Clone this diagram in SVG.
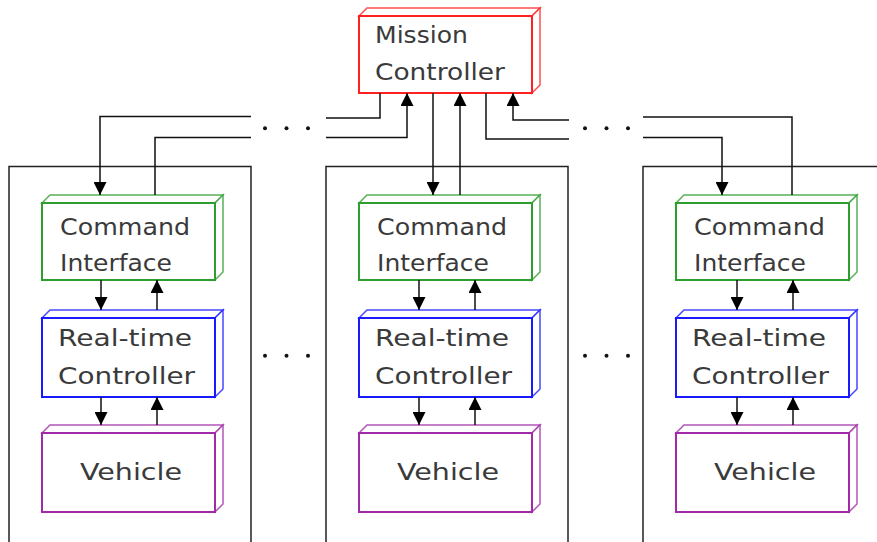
<svg xmlns="http://www.w3.org/2000/svg" width="877" height="542" viewBox="0 0 877 542">
<defs>
<marker id="ah" markerUnits="userSpaceOnUse" markerWidth="13" markerHeight="13" refX="13" refY="6.5" orient="auto">
<path d="M0,0 L13,6.5 L0,13 z" fill="#000"/>
</marker>
<style>
.frame{fill:none;stroke:#222;stroke-width:1.5}
.ln{fill:none;stroke:#111;stroke-width:1.5}
.arr{fill:none;stroke:#111;stroke-width:1.5;marker-end:url(#ah)}
.front{fill:#fff;stroke-width:2}
.face{fill:#fff;stroke-width:1.5;stroke-opacity:0.8}
.t{font-family:"DejaVu Sans",Verdana,sans-serif;font-size:23.5px;fill:#3a3a3a}
.red{stroke:#ff2020}
.green{stroke:#2e9e2e}
.blue{stroke:#1a1aff}
.purple{stroke:#a02aa8}
.dot{fill:#111}
</style>
</defs>
<rect width="877" height="542" fill="#fff"/>

<g id="containers">
<path class="frame" d="M9,545 V166.5 H251 V545"/>
<path class="frame" d="M326,545 V166.5 H568 V545"/>
<path class="frame" d="M643,545 V166.5 H880"/>
</g>

<g id="mission-controller">
<path class="face red" d="M359,16 L367,8 L540,8 L532,16 z"/>
<path class="face red" d="M532,16 L540,8 L540,85 L532,93 z"/>
<rect class="front red" x="359" y="16" width="173" height="77"/>
<text class="t" x="375" y="43" textLength="93" lengthAdjust="spacingAndGlyphs">Mission</text>
<text class="t" x="375" y="80" textLength="130" lengthAdjust="spacingAndGlyphs">Controller</text>
</g>

<g id="ci-1">
<path class="face green" d="M42,203 L50,195 L223,195 L215,203 z"/>
<path class="face green" d="M215,203 L223,195 L223,272 L215,280 z"/>
<rect class="front green" x="42" y="203" width="173" height="77"/>
<text class="t" x="60" y="235" textLength="130" lengthAdjust="spacingAndGlyphs">Command</text>
<text class="t" x="60" y="271" textLength="112" lengthAdjust="spacingAndGlyphs">Interface</text>
</g>
<g id="rtc-1">
<path class="face blue" d="M42,318 L50,310 L223,310 L215,318 z"/>
<path class="face blue" d="M215,318 L223,310 L223,389 L215,397 z"/>
<rect class="front blue" x="42" y="318" width="173" height="79"/>
<text class="t" x="58" y="346" textLength="134" lengthAdjust="spacingAndGlyphs">Real-time</text>
<text class="t" x="58" y="384" textLength="137" lengthAdjust="spacingAndGlyphs">Controller</text>
</g>
<g id="veh-1">
<path class="face purple" d="M42,433 L50,425 L223,425 L215,433 z"/>
<path class="face purple" d="M215,433 L223,425 L223,504 L215,512 z"/>
<rect class="front purple" x="42" y="433" width="173" height="79"/>
<text class="t" x="80" y="480" textLength="102" lengthAdjust="spacingAndGlyphs">Vehicle</text>
</g>

<g id="ci-2">
<path class="face green" d="M359,203 L367,195 L540,195 L532,203 z"/>
<path class="face green" d="M532,203 L540,195 L540,272 L532,280 z"/>
<rect class="front green" x="359" y="203" width="173" height="77"/>
<text class="t" x="377" y="235" textLength="130" lengthAdjust="spacingAndGlyphs">Command</text>
<text class="t" x="377" y="271" textLength="112" lengthAdjust="spacingAndGlyphs">Interface</text>
</g>
<g id="rtc-2">
<path class="face blue" d="M359,318 L367,310 L540,310 L532,318 z"/>
<path class="face blue" d="M532,318 L540,310 L540,389 L532,397 z"/>
<rect class="front blue" x="359" y="318" width="173" height="79"/>
<text class="t" x="375" y="346" textLength="134" lengthAdjust="spacingAndGlyphs">Real-time</text>
<text class="t" x="375" y="384" textLength="137" lengthAdjust="spacingAndGlyphs">Controller</text>
</g>
<g id="veh-2">
<path class="face purple" d="M359,433 L367,425 L540,425 L532,433 z"/>
<path class="face purple" d="M532,433 L540,425 L540,504 L532,512 z"/>
<rect class="front purple" x="359" y="433" width="173" height="79"/>
<text class="t" x="397" y="480" textLength="102" lengthAdjust="spacingAndGlyphs">Vehicle</text>
</g>

<g id="ci-3">
<path class="face green" d="M676,203 L684,195 L857,195 L849,203 z"/>
<path class="face green" d="M849,203 L857,195 L857,272 L849,280 z"/>
<rect class="front green" x="676" y="203" width="173" height="77"/>
<text class="t" x="694" y="235" textLength="131" lengthAdjust="spacingAndGlyphs">Command</text>
<text class="t" x="694" y="271" textLength="112" lengthAdjust="spacingAndGlyphs">Interface</text>
</g>
<g id="rtc-3">
<path class="face blue" d="M676,318 L684,310 L857,310 L849,318 z"/>
<path class="face blue" d="M849,318 L857,310 L857,389 L849,397 z"/>
<rect class="front blue" x="676" y="318" width="173" height="79"/>
<text class="t" x="692" y="346" textLength="134" lengthAdjust="spacingAndGlyphs">Real-time</text>
<text class="t" x="692" y="384" textLength="137" lengthAdjust="spacingAndGlyphs">Controller</text>
</g>
<g id="veh-3">
<path class="face purple" d="M676,433 L684,425 L857,425 L849,433 z"/>
<path class="face purple" d="M849,433 L857,425 L857,504 L849,512 z"/>
<rect class="front purple" x="676" y="433" width="173" height="79"/>
<text class="t" x="714" y="480" textLength="102" lengthAdjust="spacingAndGlyphs">Vehicle</text>
</g>

<g id="connectors">
<path class="arr" d="M251,116.5 H100 V195"/>
<path class="ln" d="M155,195 V137.5 H251"/>
<path class="ln" d="M380,93 V118 H326"/>
<path class="arr" d="M326,137.5 H407 V93"/>
<path class="arr" d="M433,93 V195"/>
<path class="arr" d="M460,195 V93"/>
<path class="ln" d="M486,93 V139 H569"/>
<path class="arr" d="M569,120 H513 V93"/>
<path class="ln" d="M643,117 H792 V195"/>
<path class="arr" d="M643,137.5 H722 V195"/>
<path class="arr" d="M101,280 V310"/>
<path class="arr" d="M157,310 V280"/>
<path class="arr" d="M101,397 V425"/>
<path class="arr" d="M157,425 V397"/>
<path class="arr" d="M419,280 V310"/>
<path class="arr" d="M475,310 V280"/>
<path class="arr" d="M419,397 V425"/>
<path class="arr" d="M475,425 V397"/>
<path class="arr" d="M737,280 V310"/>
<path class="arr" d="M793,310 V280"/>
<path class="arr" d="M737,397 V425"/>
<path class="arr" d="M793,425 V397"/>
</g>

<g id="ellipses">
<circle class="dot" cx="265" cy="128.3" r="2"/>
<circle class="dot" cx="286.5" cy="128.3" r="2"/>
<circle class="dot" cx="308" cy="128.3" r="2"/>
<circle class="dot" cx="585" cy="128.3" r="2"/>
<circle class="dot" cx="606.5" cy="128.3" r="2"/>
<circle class="dot" cx="628" cy="128.3" r="2"/>
<circle class="dot" cx="265" cy="355.7" r="2"/>
<circle class="dot" cx="286.5" cy="355.7" r="2"/>
<circle class="dot" cx="308" cy="355.7" r="2"/>
<circle class="dot" cx="585" cy="355.7" r="2"/>
<circle class="dot" cx="606.5" cy="355.7" r="2"/>
<circle class="dot" cx="628" cy="355.7" r="2"/>
</g>
</svg>
